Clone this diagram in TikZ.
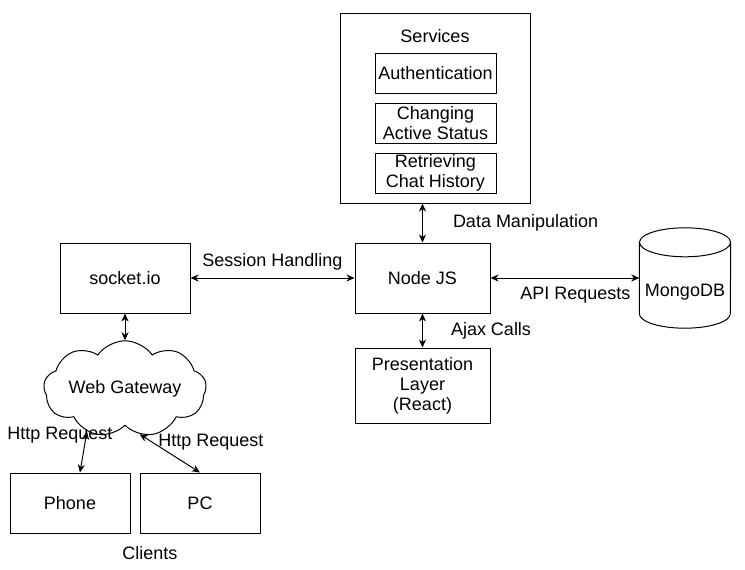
\documentclass[tikz,border=0pt]{standalone}
\usepackage{fontspec}
\setmainfont{Liberation Sans}
\usepackage{tikz}
\usetikzlibrary{arrows.meta,positioning,shapes.geometric,shapes.symbols}
\tikzset{
    >={Stealth[length=8pt,width=7pt,inset=2.5pt]},
    block/.style={
        rectangle,
        draw=black, line width=1pt,
        minimum width=135pt,
        minimum height=70pt,
        align=center,
        inner sep=0pt
    },
    servbox/.style={
        rectangle,
        draw=black, line width=1pt,
        minimum width=121pt,
        minimum height=40pt,
        align=center,
        inner sep=0pt
    },
    client/.style={block, minimum width=120pt, minimum height=60pt},
    link/.style={draw, line width=1pt, <->},
    lbl/.style={inner sep=0pt},
    font={\fontsize{18pt}{20pt}\selectfont},
}
\begin{document}
\begin{tikzpicture}[x=1pt,y=-1pt]
\useasboundingbox (0,0) rectangle (745,570);
% services
\node[block, minimum width=190pt, minimum height=190pt] (services) at (435,108) {};
\node[lbl] (servtitle) at (435,36) {Services};
\node[servbox] (auth) at (435.5,73) {Authentication};
\node[servbox] (status) at (435.5,123) {Changing\\Active Status};
\node[servbox] (history) at (435.5,173) {Retrieving\\Chat History};
% middle row
\node[block] (nodejs) at (422.5,278) {Node JS};
\node[block, minimum width=130pt] (socket) at (125,278) {socket.io};
\node[lbl, minimum width=91pt, minimum height=71pt] (mongo) at (685,292.5) {MongoDB};
\draw[line width=1pt] ([yshift=14.5pt]mongo.north) ellipse [x radius=45.5pt, y radius=14.5pt];
\draw[line width=1pt] ([yshift=14.5pt]mongo.north west) -- ([yshift=14.5pt]mongo.south west)
    arc[start angle=180, end angle=360, x radius=45.5pt, y radius=14.5pt] -- ([yshift=14.5pt]mongo.north east);
\node[block, minimum height=75pt] (pres) at (422.5,385.5) {Presentation\\Layer\\(React)};
% clients
\node[cloud, cloud puffs=9, cloud puff arc=110, aspect=2.2, draw=black, line width=1pt,
      minimum width=160pt, minimum height=72pt, inner sep=0pt] (gateway) at (125,389) {Web Gateway};
\node[client] (phone) at (70,503) {Phone};
\node[client] (pc) at (200,503) {PC};
\node[lbl] (clients) at (150,553) {Clients};
\node[lbl] (httpa) at (60,435) {Http Request};
\node[lbl] (httpb) at (211,442) {Http Request};
% links
\draw[link] (nodejs.north |- services.south) -- node[lbl, right=30pt] {Data Manipulation} (nodejs.north);
\draw[link] (socket) -- node[lbl, above=7pt] {Session Handling} (nodejs);
\draw[link] (nodejs) -- node[lbl, below=9pt, pos=0.57] {API Requests} (nodejs -| mongo.west);
\draw[link] (nodejs) -- node[lbl, right=28pt] {Ajax Calls} (pres);
\draw[link] (socket) -- (gateway);
\draw[link] (gateway.228) -- ([xshift=10pt]phone.north);
\draw[link] (gateway.288) -- (pc.north);
\end{tikzpicture}
\end{document}
